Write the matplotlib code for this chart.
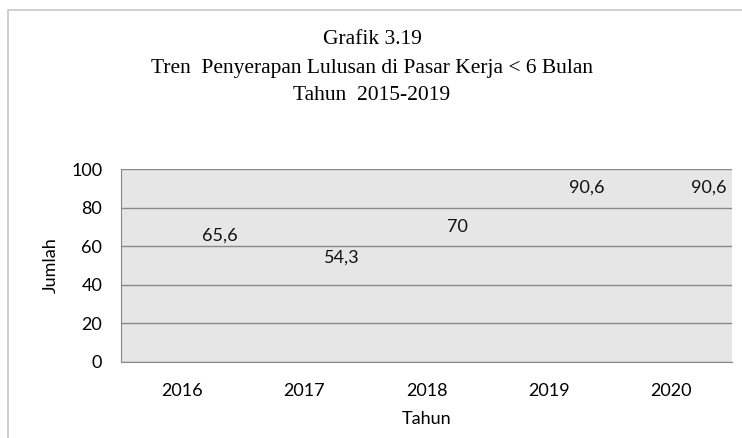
import matplotlib.pyplot as plt
from matplotlib.patches import Rectangle

# data
tahun = ['2016', '2017', '2018', '2019', '2020']
jumlah = [65.6, 54.3, 70, 90.6, 90.6]
label_jumlah = ['65,6', '54,3', '70', '90,6', '90,6']
yticks = [0, 20, 40, 60, 80, 100]

title_lines = ['Grafik 3.19',
               'Tren  Penyerapan Lulusan di Pasar Kerja < 6 Bulan',
               'Tahun  2015-2019']

sans = ['Lato', 'DejaVu Sans']
serif = ['Liberation Serif', 'DejaVu Serif']
fs = 13

fig = plt.figure(figsize=(7.42, 4.38), dpi=100)
ax = fig.add_axes([121/742, 1-362/438, (732-121)/742, (362-169)/438])

# outer chart frame (cut off at right and bottom like the reference)
fig.patches.append(Rectangle((8/742, -0.1), 1.0, 1-10/438+0.1,
                             transform=fig.transFigure, fill=False,
                             ec='#c8c8c8', lw=1.2))

x = list(range(len(tahun)))
# series line is invisible in the reference, only data labels show
ax.plot(x, jumlah, color='none')
for xi, yi, lab in zip(x, jumlah, label_jumlah):
    ax.annotate(lab, (xi, yi), xytext=(14.4, 0), textcoords='offset points',
                ha='left', va='center', fontsize=fs, family=sans, color='#111111')

ax.set_facecolor('#e6e6e6')
ax.set_xlim(-0.5, len(tahun)-0.5)
ax.set_ylim(0, 100)
ax.set_xticks(x)
ax.set_xticklabels(tahun, family=sans, fontsize=fs)
ax.set_yticks(yticks)
ax.set_yticklabels([str(v) for v in yticks], family=sans, fontsize=fs)
ax.tick_params(axis='x', length=0, pad=15)
ax.tick_params(axis='y', length=0, pad=13.5)
ax.grid(axis='y', color='#888888', lw=1)
ax.set_axisbelow(True)
for s in ['top', 'right']:
    ax.spines[s].set_visible(False)
for s in ['left', 'bottom']:
    ax.spines[s].set_color('#888888')
ax.set_xlabel('Tahun', family=sans, fontsize=fs, labelpad=9)
ax.set_ylabel('Jumlah', family=sans, fontsize=fs, labelpad=9)

for i, line in enumerate(title_lines):
    fig.text(372/742, 1-(40+28*i)/438, line, ha='center', va='center',
             family=serif, fontsize=15.5)

fig.savefig('out.png', dpi=100)
